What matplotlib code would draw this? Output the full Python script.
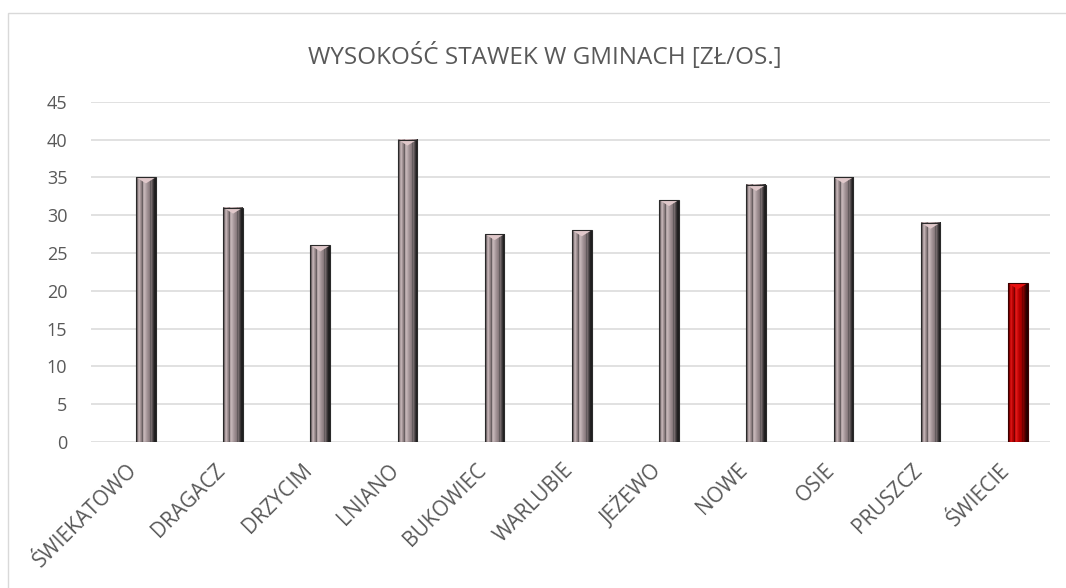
import numpy as np
import matplotlib
matplotlib.use("Agg")
import matplotlib.pyplot as plt
from matplotlib.patches import Polygon, Rectangle

# data
gminy = ["ŚWIEKATOWO", "DRAGACZ", "DRZYCIM", "LNIANO", "BUKOWIEC", "WARLUBIE",
         "JEŻEWO", "NOWE", "OSIE", "PRUSZCZ", "ŚWIECIE"]
stawki = [35, 31, 26, 40, 27.5, 28, 32, 34, 35, 29, 21]
highlight = "ŚWIECIE"
title = "WYSOKOŚĆ STAWEK W GMINACH [ZŁ/OS.]"
yticks = list(range(0, 50, 5))

plt.rcParams['font.family'] = ['Open Sans', 'DejaVu Sans']
TXT = "#595959"
GRID = "#D9D9D9"

# bevel profiles across the bar width (left -> right), RGB 0-255
grey_prof = np.array([
    [85, 78, 80], [120, 108, 110], [175, 160, 162], [192, 176, 178],
    [165, 150, 152], [140, 126, 128], [105, 96, 98], [178, 163, 165],
    [196, 181, 183], [186, 171, 173], [172, 157, 160], [160, 145, 148],
    [150, 135, 138], [138, 124, 127], [100, 92, 94], [118, 107, 109],
    [88, 81, 83], [58, 54, 55], [36, 34, 35], [30, 30, 30]]) / 255.0
red_prof = np.array([
    [95, 0, 0], [130, 0, 0], [200, 10, 10], [215, 20, 20],
    [190, 5, 5], [170, 0, 0], [120, 0, 0], [205, 15, 15],
    [225, 25, 25], [210, 15, 15], [195, 8, 8], [185, 0, 0],
    [175, 0, 0], [160, 0, 0], [115, 0, 0], [130, 0, 0],
    [100, 0, 0], [70, 0, 0], [45, 0, 0], [35, 0, 0]]) / 255.0

fig = plt.figure(figsize=(10.66, 5.88), dpi=100)
ax = fig.add_axes([91 / 1066, 146 / 588, (1050 - 91) / 1066, (442 - 101.7) / 588])

# chart area border
fig.patches.append(Rectangle((8 / 1066, -0.01), 1.0, (588 - 13) / 588 + 0.01,
                             transform=fig.transFigure, fill=False,
                             edgecolor=GRID, linewidth=1.0))

x = np.arange(len(gminy))
offset = 0.13   # bars sit right of the category centre (empty 2nd series)
w = 0.225
cap = 0.8       # height of top bevel in data units

for xi, val, name in zip(x, stawki, gminy):
    prof = red_prof if name == highlight else grey_prof
    cx = xi + offset
    img = prof[np.newaxis, :, :]
    ax.imshow(img, extent=(cx - w / 2, cx + w / 2, 0, val), aspect='auto',
              interpolation='bilinear', zorder=3)
    top = "#E0C8CA" if name != highlight else "#E81010"
    ax.add_patch(Polygon([(cx - w / 2, val), (cx + w / 2, val), (cx, val - cap)],
                         closed=True, facecolor=top, edgecolor='none', zorder=4))
    ax.add_patch(Rectangle((cx - w / 2, 0), w, val, fill=False,
                           edgecolor="#2a2a2a" if name != highlight else "#3a0000",
                           linewidth=0.8, zorder=5))

ax.set_xlim(-0.5, 10.5)
ax.set_ylim(0, 45)
ax.set_yticks(yticks)
ax.set_xticks(x)
ax.set_xticklabels(gminy, rotation=45, ha='right', va='center',
                   rotation_mode='anchor', color=TXT, fontsize=15)
ax.tick_params(axis='x', length=0, pad=18)
ax.tick_params(axis='y', length=0, pad=17, labelcolor=TXT, labelsize=13)
ax.yaxis.grid(True, color=GRID, linewidth=1.1, zorder=0)
ax.set_axisbelow(True)
for s in ax.spines.values():
    s.set_visible(False)

fig.text(545 / 1066, 1 - 57 / 588, title, ha='center', va='center',
         color=TXT, fontsize=17.5)

fig.savefig("out.png", dpi=100)
